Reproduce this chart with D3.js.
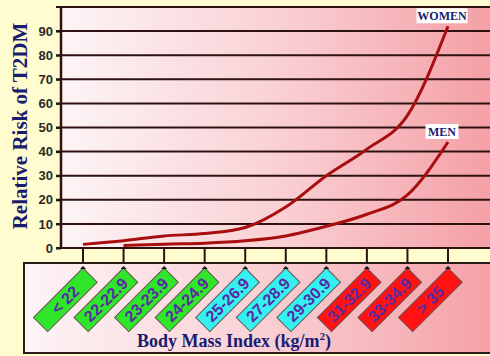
<!DOCTYPE html>
<html>
<head>
<meta charset="utf-8">
<script src="https://cdn.jsdelivr.net/npm/d3@7"></script>
<style>
  body { margin: 0; background: #fffdcf; }
  svg { display: block; }
</style>
</head>
<body>
<div id="canvas"></div>
<script>
"use strict"

/* Configuration variables: drawing */
let svgWidth = 490;
let svgHeight = 356;
/* plot area */
let plotLeft = 61
let plotRight = 490
let plotTop = 7
let plotBottom = 248
/* category box under the plot */
let boxLeft = 24
let boxTop = 263

/* Data */
let categories = ["< 22", "22-22.9", "23-23.9", "24-24.9", "25-26.9", "27-28.9", "29-30.9", "31-32.9", "33-34.9", "> 35"];
let bmiClass = ["normal", "normal", "normal", "normal", "over", "over", "over", "obese", "obese", "obese"];
let womenRisk = [1.5, 3, 5, 6, 8.5, 17, 30, 41, 55, 92];
let menRisk = [null, 1, 1.6, 2, 3, 5, 9, 14, 22, 44];
let yTicks = [0, 10, 20, 30, 40, 50, 60, 70, 80, 90];

let svg = d3.select("#canvas")
    .append("svg")
    .attr("width", svgWidth)
    .attr("height", svgHeight);

/* gradients white -> pink for the plot and the box */
let defs = svg.append("defs");
let grad = defs.append("linearGradient")
    .attr("id", "pinkGrad")
    .attr("x1", "0").attr("x2", "1").attr("y1", "0").attr("y2", "0");
grad.append("stop").attr("offset", "0").attr("stop-color", "#fdf4f6");
grad.append("stop").attr("offset", "0.5").attr("stop-color", "#f9d1d5");
grad.append("stop").attr("offset", "1").attr("stop-color", "#f4a0a6");

/* Scales */
let xScale = d3.scalePoint()
    .domain(categories)
    .range([83, 448]);

let yScale = d3.scaleLinear()
    .domain([0, 100])
    .range([plotBottom, plotTop]);

let classColor = d3.scaleOrdinal()
    .domain(["normal", "over", "obese"])
    .range(["#2fe62a", "#35f0f0", "#ff1212"]);

/* plot background */
svg.append("rect")
    .attr("x", plotLeft)
    .attr("y", plotTop)
    .attr("width", plotRight - plotLeft)
    .attr("height", plotBottom - plotTop)
    .attr("fill", "url(#pinkGrad)");

/* box with the BMI categories */
svg.append("rect")
    .attr("x", boxLeft)
    .attr("y", boxTop)
    .attr("width", svgWidth - boxLeft + 5)
    .attr("height", svgHeight - boxTop - 3)
    .attr("fill", "url(#pinkGrad)")
    .attr("stroke", "#2b1a1a")
    .attr("stroke-width", 2);

/* gridlines, 0 to 100 */
svg.append("g")
    .selectAll("line")
    .data(yTicks.concat([100]))
    .join("line")
    .attr("x1", plotLeft - 5)
    .attr("x2", plotRight)
    .attr("y1", d => yScale(d))
    .attr("y2", d => yScale(d))
    .attr("stroke", "#2e1212")
    .attr("stroke-width", 2);

/* Y axis with tick labels */
let yAxis = svg.append("g")
    .attr("transform", `translate(${plotLeft},0)`)
    .call(d3.axisLeft(yScale).tickValues(yTicks).tickSize(5).tickPadding(3));
yAxis.select(".domain")
    .attr("d", `M0,${plotTop}V${plotBottom}`)
    .attr("stroke", "#2e1212")
    .attr("stroke-width", 2.5);
yAxis.selectAll(".tick line").attr("stroke", "#2e1212").attr("stroke-width", 2);
yAxis.selectAll(".tick text")
    .attr("font-family", "Liberation Sans, Arial, sans-serif")
    .attr("font-weight", "bold")
    .attr("font-size", 13)
    .attr("fill", "#2a2a2a");

/* X ticks between plot and box */
svg.append("g")
    .selectAll("line")
    .data(categories)
    .join("line")
    .attr("x1", d => xScale(d))
    .attr("x2", d => xScale(d))
    .attr("y1", plotBottom)
    .attr("y2", boxTop)
    .attr("stroke", "#2e1212")
    .attr("stroke-width", 2);

/* curves */
let line = d3.line()
    .defined(d => d.value !== null)
    .x(d => xScale(d.cat))
    .y(d => yScale(d.value))
    .curve(d3.curveMonotoneX);

let seriesList = [
    { name: "WOMEN", values: womenRisk },
    { name: "MEN", values: menRisk }
];

for (let i = 0; i < seriesList.length; i++) {
    let pts = categories.map((c, j) => ({ cat: c, value: seriesList[i].values[j] }));
    svg.append("path")
        .datum(pts)
        .attr("d", line)
        .attr("fill", "none")
        .attr("stroke", "#a80e0e")
        .attr("stroke-width", 3);

    /* white label above the end of the line */
    let last = pts[pts.length - 1];
    let lx = xScale(last.cat) - 6;
    let ly = yScale(last.value) - 10;
    let lbl = svg.append("g");
    let w = seriesList[i].name.length * 9 + 6;
    lbl.append("rect")
        .attr("x", lx - w / 2)
        .attr("y", ly - 8)
        .attr("width", w)
        .attr("height", 15)
        .attr("fill", "white");
    lbl.append("text")
        .attr("x", lx)
        .attr("y", ly + 4)
        .attr("text-anchor", "middle")
        .attr("font-family", "Liberation Serif, Times New Roman, serif")
        .attr("font-weight", "bold")
        .attr("font-size", 12)
        .attr("fill", "#1a1c70")
        .text(seriesList[i].name);
}

/* rotated category labels */
let tags = svg.append("g")
    .selectAll("g")
    .data(categories)
    .join("g")
    .attr("transform", d => `translate(${xScale(d)},${boxTop + 5}) rotate(-45)`);

tags.append("rect")
    .attr("x", -70)
    .attr("y", 0)
    .attr("width", 70)
    .attr("height", 20)
    .attr("fill", (d, i) => classColor(bmiClass[i]))
    .attr("stroke", "#6b5050")
    .attr("stroke-width", 1);

tags.append("text")
    .attr("x", -35)
    .attr("y", 15.5)
    .attr("text-anchor", "middle")
    .attr("font-family", "Liberation Sans, Arial, sans-serif")
    .attr("font-weight", "bold")
    .attr("font-size", 16)
    .attr("fill", "#5a2aa6")
    .text(d => d);

/* small black marker on each tag */
svg.append("g")
    .selectAll("path")
    .data(categories)
    .join("path")
    .attr("d", d => `M${xScale(d) - 3},${boxTop + 6}L${xScale(d)},${boxTop + 3}L${xScale(d) + 3},${boxTop + 6}Z`)
    .attr("fill", "#111");

/**** label the axes ****/
svg.append("text")
    .attr("transform", "translate(27,126) rotate(-90)")
    .attr("text-anchor", "middle")
    .attr("font-family", "Liberation Serif, Times New Roman, serif")
    .attr("font-weight", "bold")
    .attr("font-size", 21)
    .attr("fill", "#1a1c70")
    .text("Relative Risk of T2DM");

let xTitle = svg.append("text")
    .attr("x", 234)
    .attr("y", 347)
    .attr("text-anchor", "middle")
    .attr("font-family", "Liberation Serif, Times New Roman, serif")
    .attr("font-weight", "bold")
    .attr("font-size", 18)
    .attr("fill", "#1a1c70");
xTitle.append("tspan").text("Body Mass Index (kg/m");
xTitle.append("tspan").attr("dy", -7).attr("font-size", 11).text("2");
xTitle.append("tspan").attr("dy", 7).text(")");
</script>
</body>
</html>
